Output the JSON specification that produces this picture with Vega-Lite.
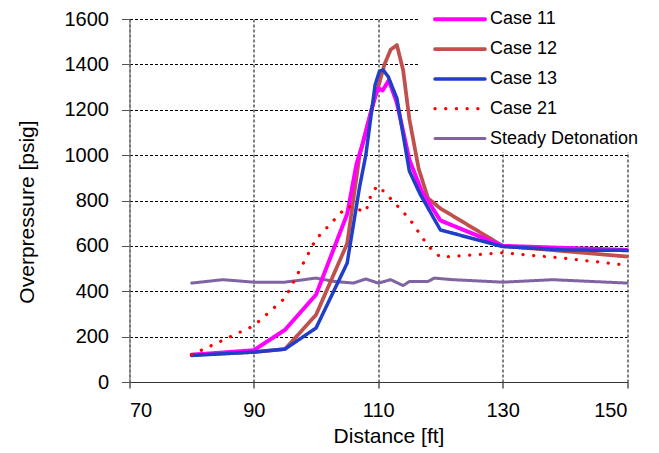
{
  "$schema": "https://vega.github.io/schema/vega-lite/v6.json",
  "autosize": {"type": "none"},
  "width": 497.5,
  "height": 363,
  "padding": {"left": 129.5, "top": 19, "right": 32, "bottom": 71},
  "background": "white",
  "config": {
    "view": {"stroke": null},
    "font": "Liberation Sans",
    "axis": {"labelFont": "Liberation Sans", "titleFont": "Liberation Sans", "labelColor": "#000", "titleColor": "#000", "titleFontWeight": "normal"},
    "legend": {"labelFont": "Liberation Sans", "fillColor": "white", "strokeColor": null}
  },
  "data": {
    "values": [
      {"series": "Steady Detonation", "x": 80, "y": 436},
      {"series": "Steady Detonation", "x": 85, "y": 451},
      {"series": "Steady Detonation", "x": 90, "y": 440},
      {"series": "Steady Detonation", "x": 95, "y": 440},
      {"series": "Steady Detonation", "x": 100, "y": 458},
      {"series": "Steady Detonation", "x": 103, "y": 443},
      {"series": "Steady Detonation", "x": 106, "y": 436},
      {"series": "Steady Detonation", "x": 108, "y": 454},
      {"series": "Steady Detonation", "x": 110, "y": 436},
      {"series": "Steady Detonation", "x": 112, "y": 451},
      {"series": "Steady Detonation", "x": 114, "y": 425},
      {"series": "Steady Detonation", "x": 115, "y": 443},
      {"series": "Steady Detonation", "x": 118, "y": 443},
      {"series": "Steady Detonation", "x": 119, "y": 458},
      {"series": "Steady Detonation", "x": 122, "y": 451},
      {"series": "Steady Detonation", "x": 130, "y": 440},
      {"series": "Steady Detonation", "x": 138, "y": 451},
      {"series": "Steady Detonation", "x": 150, "y": 436},

      {"series": "Case 12", "x": 80, "y": 120},
      {"series": "Case 12", "x": 90, "y": 132},
      {"series": "Case 12", "x": 95, "y": 145},
      {"series": "Case 12", "x": 100, "y": 296},
      {"series": "Case 12", "x": 105, "y": 610},
      {"series": "Case 12", "x": 107, "y": 1000},
      {"series": "Case 12", "x": 109, "y": 1210},
      {"series": "Case 12", "x": 110, "y": 1300},
      {"series": "Case 12", "x": 111, "y": 1400},
      {"series": "Case 12", "x": 112, "y": 1465},
      {"series": "Case 12", "x": 113, "y": 1485},
      {"series": "Case 12", "x": 114, "y": 1375},
      {"series": "Case 12", "x": 115, "y": 1160},
      {"series": "Case 12", "x": 116.5, "y": 940},
      {"series": "Case 12", "x": 118, "y": 810},
      {"series": "Case 12", "x": 120, "y": 765},
      {"series": "Case 12", "x": 130, "y": 600},
      {"series": "Case 12", "x": 150, "y": 553},

      {"series": "Case 11", "x": 80, "y": 120},
      {"series": "Case 11", "x": 90, "y": 140},
      {"series": "Case 11", "x": 95, "y": 230},
      {"series": "Case 11", "x": 100, "y": 385},
      {"series": "Case 11", "x": 105, "y": 740},
      {"series": "Case 11", "x": 106.5, "y": 960},
      {"series": "Case 11", "x": 107.5, "y": 1050},
      {"series": "Case 11", "x": 109.5, "y": 1260},
      {"series": "Case 11", "x": 110, "y": 1295},
      {"series": "Case 11", "x": 110.7, "y": 1285},
      {"series": "Case 11", "x": 111.7, "y": 1330},
      {"series": "Case 11", "x": 113, "y": 1230},
      {"series": "Case 11", "x": 115, "y": 980},
      {"series": "Case 11", "x": 117, "y": 840},
      {"series": "Case 11", "x": 120, "y": 712},
      {"series": "Case 11", "x": 130, "y": 600},
      {"series": "Case 11", "x": 150, "y": 582},

      {"series": "Case 13", "x": 80, "y": 117},
      {"series": "Case 13", "x": 90, "y": 132},
      {"series": "Case 13", "x": 95, "y": 145},
      {"series": "Case 13", "x": 100, "y": 238},
      {"series": "Case 13", "x": 105, "y": 524},
      {"series": "Case 13", "x": 107, "y": 860},
      {"series": "Case 13", "x": 108, "y": 1000},
      {"series": "Case 13", "x": 109.5, "y": 1310},
      {"series": "Case 13", "x": 110.2, "y": 1370},
      {"series": "Case 13", "x": 110.8, "y": 1375},
      {"series": "Case 13", "x": 111.6, "y": 1346},
      {"series": "Case 13", "x": 113, "y": 1250},
      {"series": "Case 13", "x": 115, "y": 930},
      {"series": "Case 13", "x": 116.7, "y": 830},
      {"series": "Case 13", "x": 120, "y": 670},
      {"series": "Case 13", "x": 130, "y": 597},
      {"series": "Case 13", "x": 140, "y": 582},
      {"series": "Case 13", "x": 150, "y": 580},

      {"series": "Case 21", "x": 80, "y": 120},
      {"series": "Case 21", "x": 90, "y": 248},
      {"series": "Case 21", "x": 95, "y": 370},
      {"series": "Case 21", "x": 100, "y": 630},
      {"series": "Case 21", "x": 105, "y": 775},
      {"series": "Case 21", "x": 108, "y": 750},
      {"series": "Case 21", "x": 109, "y": 840},
      {"series": "Case 21", "x": 110, "y": 865},
      {"series": "Case 21", "x": 112, "y": 808},
      {"series": "Case 21", "x": 115, "y": 720},
      {"series": "Case 21", "x": 118, "y": 600},
      {"series": "Case 21", "x": 120, "y": 550},
      {"series": "Case 21", "x": 130, "y": 570},
      {"series": "Case 21", "x": 140, "y": 545},
      {"series": "Case 21", "x": 150, "y": 515}
    ]
  },
  "mark": {"type": "line", "strokeCap": "round", "strokeJoin": "round", "clip": false},
  "encoding": {
    "x": {
      "field": "x", "type": "quantitative",
      "scale": {"domain": [70, 150], "nice": false, "zero": false},
      "axis": {
        "title": "Distance [ft]", "values": [70, 90, 110, 130, 150],
        "labelFontSize": 20, "titleFontSize": 21,
        "tickSize": 6, "tickColor": "#000", "domainColor": "#333", "domainWidth": 1.2,
        "labelPadding": 12,
        "grid": true, "gridColor": "#000", "gridDash": [3, 2], "gridWidth": 1,
        "titleX": 259, "titleY": 60, "titleBaseline": "alphabetic", "titleAlign": "center"
      }
    },
    "y": {
      "field": "y", "type": "quantitative",
      "scale": {"domain": [0, 1600], "nice": false},
      "axis": {
        "title": "Overpressure  [psig]", "values": [0, 200, 400, 600, 800, 1000, 1200, 1400, 1600],
        "format": "d",
        "labelFontSize": 20, "titleFontSize": 21,
        "tickSize": 8, "tickColor": "#555", "domainColor": "#777", "domainWidth": 1.2,
        "labelPadding": 13,
        "grid": true, "gridColor": "#000", "gridDash": [3, 2], "gridWidth": 1,
        "titleX": -96, "titleY": 192.5, "titleAngle": -90, "titleBaseline": "alphabetic", "titleAlign": "center"
      }
    },
    "color": {
      "field": "series", "type": "nominal",
      "scale": {
        "domain": ["Case 11", "Case 12", "Case 13", "Case 21", "Steady Detonation"],
        "range": ["#FF00FF", "#C0504D", "#1F3FC8", "#FF0000", "#8064A2"]
      },
      "legend": {
        "title": null, "orient": "none", "legendX": 290.5, "legendY": -12.7,
        "padding": 4, "fillColor": "white", "strokeColor": null,
        "symbolType": "M0,0H5.556", "symbolSize": 324, "symbolStrokeWidth": 4,
        "clipHeight": 18,
        "labelFontSize": 18, "labelColor": "#000", "labelOffset": 44,
        "rowPadding": 11.8, "labelLimit": 300,
        "encode": {"symbols": {"update": {"strokeCap": {"value": "round"}, "strokeWidth": {"signal": "datum.value === 'Case 21' ? 6.5 : 4"}}}}
      }
    },
    "strokeDash": {
      "field": "series", "type": "nominal",
      "scale": {
        "domain": ["Case 11", "Case 12", "Case 13", "Case 21", "Steady Detonation"],
        "range": [[1, 0], [1, 0], [1, 0], [0.1, 10.6], [1, 0]]
      },
      "legend": {
        "title": null, "orient": "none", "legendX": 290.5, "legendY": -12.7,
        "padding": 4, "fillColor": "white", "strokeColor": null,
        "symbolType": "M0,0H5.556", "symbolSize": 324, "symbolStrokeWidth": 4,
        "clipHeight": 18,
        "labelFontSize": 18, "labelColor": "#000", "labelOffset": 44,
        "rowPadding": 11.8, "labelLimit": 300,
        "encode": {"symbols": {"update": {"strokeCap": {"value": "round"}, "strokeWidth": {"signal": "datum.value === 'Case 21' ? 6.5 : 4"}}}}
      }
    },
    "strokeWidth": {
      "field": "series", "type": "nominal",
      "scale": {
        "domain": ["Case 11", "Case 12", "Case 13", "Case 21", "Steady Detonation"],
        "range": [4, 3, 3.5, 7, 3]
      },
      "legend": null
    }
  }
}
